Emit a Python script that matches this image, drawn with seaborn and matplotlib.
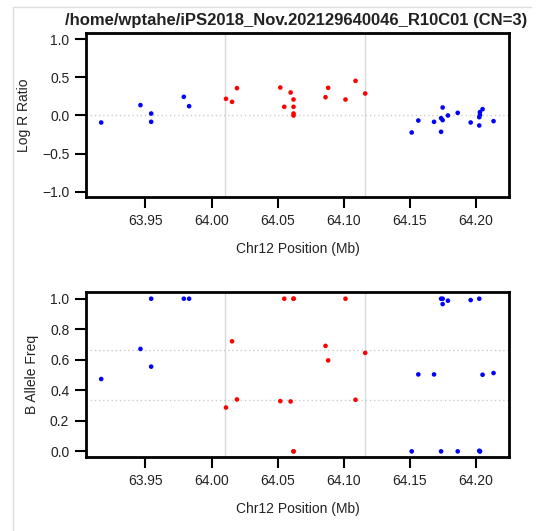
import pandas as pd
import matplotlib
matplotlib.use('Agg')
import matplotlib.pyplot as plt
from matplotlib.lines import Line2D
import seaborn as sns

# =============================
# 1. Dados (posição em Mb, LRR, BAF, estado)
# =============================
posicao = [63.9165, 63.9462, 63.9543, 63.9543, 63.9790, 63.9830,
           64.0109, 64.0155, 64.0192, 64.0520, 64.0550, 64.0598,
           64.0620, 64.0620, 64.0620, 64.0620, 64.0862, 64.0882,
           64.1013, 64.1089, 64.1162,
           64.1514, 64.1564, 64.1683, 64.1736, 64.1736, 64.1748,
           64.1748, 64.1788, 64.1862, 64.1960, 64.2025, 64.2025,
           64.2030, 64.2030, 64.2050, 64.2133]
log_r = [-0.092, 0.136, 0.026, -0.083, 0.245, 0.122,
         0.219, 0.179, 0.359, 0.367, 0.114, 0.302,
         0.210, 0.114, 0.026, 0.000, 0.240, 0.363,
         0.210, 0.455, 0.289,
         -0.223, -0.066, -0.083, -0.035, -0.214, -0.061,
         0.105, 0.000, 0.035, -0.092, -0.131, -0.022,
         0.009, 0.044, 0.083, -0.074]
baf = [0.474, 0.671, 1.000, 0.555, 1.000, 1.000,
       0.287, 0.721, 0.340, 0.329, 1.000, 0.327,
       1.000, 1.000, 0.000, 0.000, 0.691, 0.596,
       1.000, 0.338, 0.645,
       0.000, 0.504, 0.504, 1.000, 0.000, 1.000,
       0.965, 0.987, 0.000, 0.991, 1.000, 0.004,
       0.000, 0.000, 0.502, 0.513]
estado = ['normal'] * 6 + ['CN=3'] * 15 + ['normal'] * 16

limites_regiao = [64.0104, 64.116]
titulo = '/home/wptahe/iPS2018_Nov.202129640046_R10C01 (CN=3)'

df = pd.DataFrame({'pos': posicao, 'lrr': log_r, 'baf': baf, 'estado': estado})
cores = {'normal': '#0000ff', 'CN=3': '#ff0000'}

# =============================
# 2. Figura
# =============================
sns.set_style('white')
plt.rcParams['font.family'] = ['Liberation Sans', 'DejaVu Sans']

fig = plt.figure(figsize=(5.43, 5.31), dpi=100)
ax1 = fig.add_axes([86 / 543, 1 - 197 / 531, 423 / 543, 164 / 531])
ax2 = fig.add_axes([86 / 543, 1 - 457 / 531, 423 / 543, 165 / 531])

# moldura cinza clara (borda da captura)
fig.add_artist(Line2D([13 / 543, 13 / 543], [0, 1 - 7 / 531], color='#dddddd', lw=1))
fig.add_artist(Line2D([13 / 543, 531 / 543], [1 - 7 / 531, 1 - 7 / 531], color='#dddddd', lw=1))

for ax, col, ylabel in [(ax1, 'lrr', 'Log R Ratio'), (ax2, 'baf', 'B Allele Freq')]:
    for x in limites_regiao:
        ax.axvline(x, color='#d9d9d9', lw=1, zorder=0)
    sns.scatterplot(data=df, x='pos', y=col, hue='estado', palette=cores,
                    s=11, linewidth=0, legend=False, ax=ax, zorder=3)
    ax.set_xlim(63.905, 64.225)
    ax.set_xticks([63.95, 64.00, 64.05, 64.10, 64.15, 64.20])
    ax.set_xticklabels(['63.95', '64.00', '64.05', '64.10', '64.15', '64.20'])
    ax.set_xlabel('Chr12 Position (Mb)', fontsize=10, color='#222222', labelpad=10)
    ax.set_ylabel(ylabel, fontsize=10, color='#222222', labelpad=8)
    ax.tick_params(direction='out', length=8, width=1.5, color='black',
                   labelsize=10, labelcolor='#222222', pad=4,
                   bottom=True, left=True)
    for s in ax.spines.values():
        s.set_linewidth(2)
        s.set_color('black')

ax1.axhline(0, color='#cccccc', lw=1, ls=(0, (1, 2)), zorder=1)
ax1.set_ylim(-1.07, 1.083)
ax1.set_yticks([-1.0, -0.5, 0.0, 0.5, 1.0])
ax1.set_yticklabels(['\u22121.0', '\u22120.5', '0.0', '0.5', '1.0'])

for h in [1 / 3, 2 / 3]:
    ax2.axhline(h, color='#cccccc', lw=1, ls=(0, (1, 2)), zorder=1)
ax2.set_ylim(-0.037, 1.044)
ax2.set_yticks([0.0, 0.2, 0.4, 0.6, 0.8, 1.0])
ax2.set_yticklabels(['0.0', '0.2', '0.4', '0.6', '0.8', '1.0'])

fig.text(296 / 543, 1 - 21 / 531, titulo, ha='center', va='center',
         fontsize=12, fontweight='bold', color='#222222')

fig.savefig('out.png', dpi=100)
